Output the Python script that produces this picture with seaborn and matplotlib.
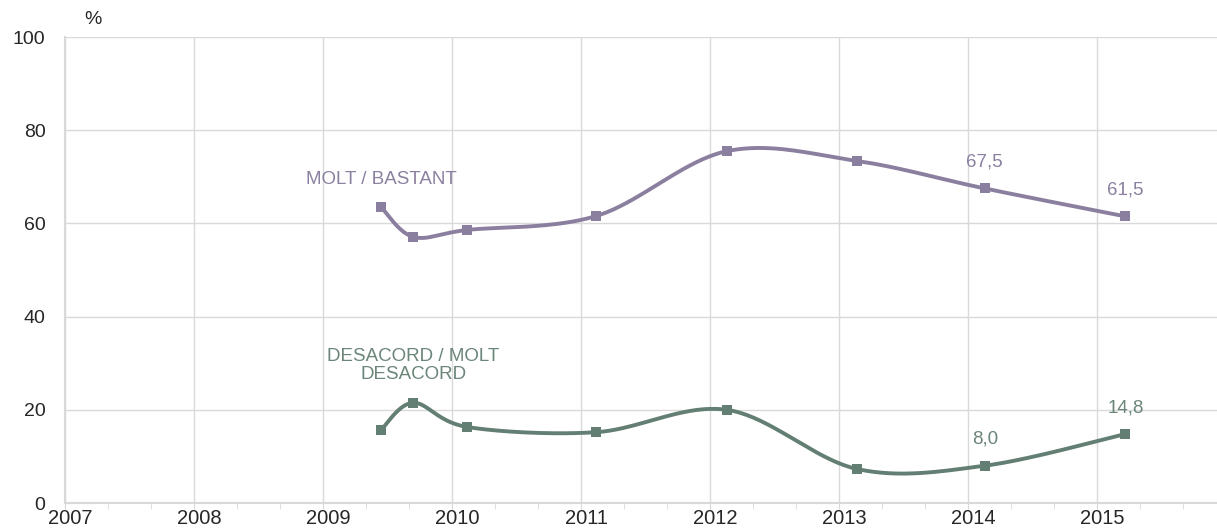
import numpy as np
import pandas as pd
import seaborn as sns
import matplotlib.pyplot as plt
from matplotlib.ticker import MultipleLocator
from matplotlib.transforms import ScaledTranslation

# survey dates (fractional years) and values (%)
dates = [2009.45, 2009.70, 2010.12, 2011.12, 2012.13, 2013.14, 2014.13, 2015.22]
molt_bastant = [63.5, 57.1, 58.6, 61.6, 75.5, 73.4, 67.5, 61.5]
desacord = [15.7, 21.5, 16.3, 15.2, 20.0, 7.3, 8.0, 14.8]
year_ticks = list(range(2007, 2016))

PURPLE = "#8b7f9f"
GREEN = "#637e72"
GRID = "#d9d9d9"

# scale factors so the smoothing works in (roughly) screen proportions
SX, SY = 129.0, 4.66


def smooth(xs, ys, n=40):
    """Excel-like bezier smoothing through every point."""
    pts = np.column_stack([np.array(xs) * SX, np.array(ys) * SY])
    ext = np.vstack([pts[0], pts, pts[-1]])
    t = np.linspace(0, 1, n)[:, None]
    out = []
    for i in range(len(pts) - 1):
        p0, p1, p2, p3 = ext[i], ext[i + 1], ext[i + 2], ext[i + 3]
        c1 = p1 + (p2 - p0) / 6
        c2 = p2 - (p3 - p1) / 6
        seg = (1 - t) ** 3 * p1 + 3 * (1 - t) ** 2 * t * c1 + 3 * (1 - t) * t ** 2 * c2 + t ** 3 * p2
        out.append(seg if i == 0 else seg[1:])
    out = np.vstack(out)
    return out[:, 0] / SX, out[:, 1] / SY


sns.set_style("white")
plt.rcParams["font.family"] = ["Liberation Sans", "DejaVu Sans"]

fig = plt.figure(figsize=(12.17, 5.30), dpi=100)
ax = fig.add_axes([65 / 1217, 27 / 530, 1 - 65 / 1217, 466 / 530])

points = pd.DataFrame({"date": dates, "molt": molt_bastant, "desacord": desacord})

for col, color in [("molt", PURPLE), ("desacord", GREEN)]:
    sx, sy = smooth(points["date"], points[col])
    curve = pd.DataFrame({"x": sx, "y": sy})
    sns.lineplot(data=curve, x="x", y="y", sort=False, estimator=None,
                 color=color, linewidth=2.8, ax=ax, zorder=3)
    sns.scatterplot(data=points, x="date", y=col, marker="s", s=60,
                    color=color, edgecolor=color, linewidth=0, ax=ax, zorder=4)

# value labels on the last two points
for col, color in [("molt", "#8b80a0"), ("desacord", "#6b8579")]:
    for xv, yv in zip(points["date"][-2:], points[col][-2:]):
        ax.annotate(f"{yv:.1f}".replace(".", ","), (xv, yv), xytext=(0, 19),
                    textcoords="offset points", ha="center", va="center",
                    fontsize=13.5, color=color)

# series names
ax.text(dates[0], 69.5, "MOLT / BASTANT", ha="center", va="center",
        fontsize=13.5, color="#8b80a0")
ax.text(dates[1], 29.5, "DESACORD / MOLT\nDESACORD", ha="center", va="center",
        fontsize=13.5, color="#6b8579", linespacing=1.1)

ax.set_xlim(2007, 2007 + (1217 - 65) / 129)
ax.set_ylim(0, 100)
ax.set_xticks(year_ticks)
ax.set_xticklabels([str(y) for y in year_ticks])
ax.xaxis.set_minor_locator(MultipleLocator(1 / 3))
ax.set_yticks(range(0, 101, 20))
ax.set_xlabel("")
ax.set_ylabel("")

ax.grid(True, which="major", color=GRID, linewidth=1)
ax.set_axisbelow(True)
for side in ["top", "right"]:
    ax.spines[side].set_visible(False)
for side in ["left", "bottom"]:
    ax.spines[side].set_color(GRID)
    ax.spines[side].set_linewidth(1.5)

ax.tick_params(axis="x", which="both", bottom=True, direction="out", length=4,
               color=GRID, pad=0, labelsize=14.5)
ax.tick_params(axis="y", length=0, pad=14, labelsize=14)

# year labels sit a little right of their gridlines
shift = ScaledTranslation(4 / 72, 0, fig.dpi_scale_trans)
for lab in ax.get_xticklabels():
    lab.set_transform(lab.get_transform() + shift)

fig.text(93 / 1217, 1 - 20 / 530, "%", ha="center", va="center", fontsize=14)

fig.savefig("out.png", dpi=100)
